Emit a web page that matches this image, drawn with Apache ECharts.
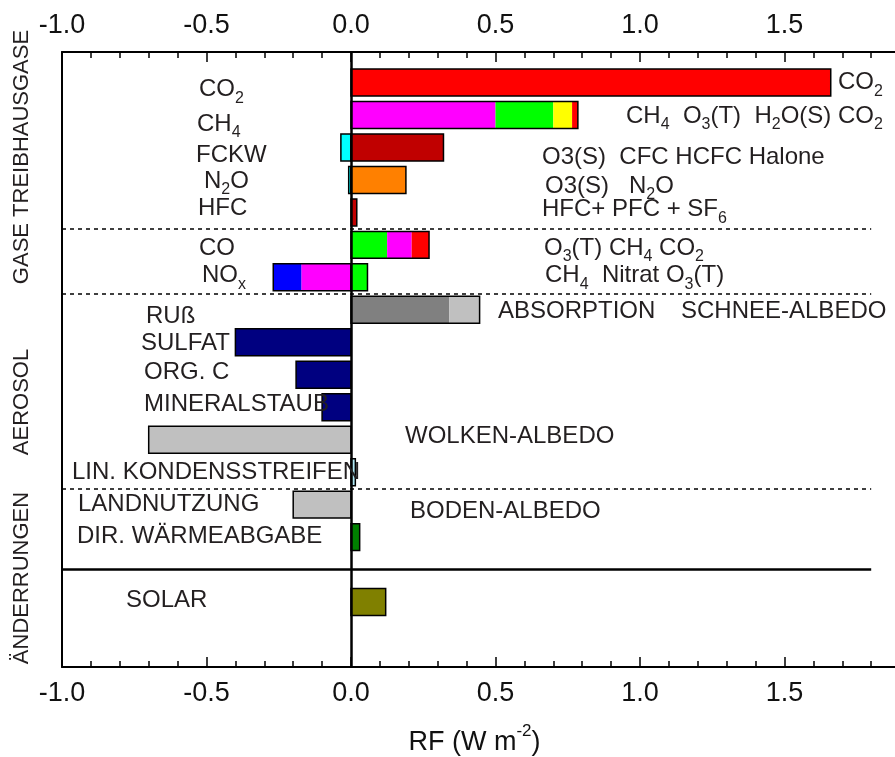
<!DOCTYPE html>
<html><head><meta charset="utf-8">
<script src="https://cdn.jsdelivr.net/npm/echarts@6/dist/echarts.min.js"></script>
<style>html,body{margin:0;padding:0;background:#fff}#c{width:895px;height:757px}</style>
</head><body><div id="c"></div>
<script>
// ---------------- DATA ----------------
const rowNames = ['CO2','CH4','FCKW','N2O','HFC','CO','NOx','RUß','SULFAT','ORG. C','MINERALSTAUB','WOLKEN','LIN. KONDENSSTREIFEN','LANDNUTZUNG','DIR. WÄRMEABGABE','-','SOLAR'];
const leftLabels = ['CO{s|2}','CH{s|4}','FCKW','N{s|2}O','HFC','CO','NO{s|x}','RUß','SULFAT','ORG. C','MINERALSTAUB','','LIN. KONDENSSTREIFEN','LANDNUTZUNG','DIR. WÄRMEABGABE','','SOLAR'];
const contribRow   = ['CO2','CH4','CH4','CH4','CH4','FCKW','FCKW','N2O','N2O','HFC','CO','CO','CO','NOx','NOx','NOx','RUß','RUß','SULFAT','ORG. C','MINERALSTAUB','WOLKEN','LIN. KONDENSSTREIFEN','LANDNUTZUNG','DIR. WÄRMEABGABE','SOLAR'];
const contribAgent = ['CO2','CH4','O3T','H2OS','CO2','O3S','HALO','O3S','N2O','HFC','O3T','CH4','CO2','CH4','NITRAT','O3T','BC','SNOW','SULF','ORGC','DUST','CLOUD','CONTRAIL','LAND','HEAT','SOLAR'];
const contribValue = [1.66, 0.50, 0.20, 0.065, 0.02, -0.035, 0.32, -0.008, 0.19, 0.02, 0.125, 0.085, 0.06, -0.172, -0.097, 0.057, 0.34, 0.105, -0.40, -0.19, -0.10, -0.70, 0.015, -0.20, 0.03, 0.12];
const annotationRow  = ['CO2','CH4','FCKW','N2O','HFC','CO','NOx','RUß','RUß','WOLKEN','LANDNUTZUNG'];
const annotationText = ['CO{s|2}','CH{s|4}  O{s|3}(T)  H{s|2}O(S) CO{s|2}','O3(S)  CFC HCFC Halone','O3(S)   N{s|2}O','HFC+ PFC + SF{s|6}','O{s|3}(T) CH{s|4} CO{s|2}','CH{s|4}  Nitrat O{s|3}(T)','ABSORPTION','SCHNEE-ALBEDO','WOLKEN-ALBEDO','BODEN-ALBEDO'];
const groupBreaks = [4.5, 6.5, 12.5];   // dashed separators (between rows)
const sectionBreaks = [15];             // solid separator
const groupTitles = ['GASE TREIBHAUSGASE','AEROSOL','ÄNDERRUNGEN'];
const xMin = -1.0, xMax = 2.0, xStep = 0.5, lineEnd = 1.8;
const axisTitle = 'RF (W m{p|-2})';

// ---------------- STYLE ----------------
const FONT = 'Liberation Sans, Arial, sans-serif';
const TXT = '#231f20';
const agentColor = {CO2:'#ff0000',CH4:'#ff00ff',O3T:'#00ff00',H2OS:'#ffff00',O3S:'#00ffff',HALO:'#c00000',N2O:'#ff8000',HFC:'#c00000',NITRAT:'#0000ff',BC:'#808080',SNOW:'#c0c0c0',SULF:'#000080',ORGC:'#000080',DUST:'#000080',CLOUD:'#c0c0c0',CONTRAIL:'#b0e8f4',LAND:'#c0c0c0',HEAT:'#008000',SOLAR:'#808000'};
const leftLabelX  = [199,197,196,204,198,199,202,146,141,144,144,0,72,78,77,0,126];
const leftLabelDy = [7,9,8,1,-4,3,-2,7,1,-2,-3,0,0,0,-1,0,-2];
const annotationX  = [838,626,542,545,542,544,545,498,681,405,410];
const annotationDy = [0,1,10,6,-3,3,-2,2,2,-3,7];
const titleY = [157,402,578];
const BAR_HALF = 0.415;
const LABEL_SIZE = 24;
const richSub = {s:{fontSize:16,lineHeight:16,padding:[18,0,0,0],fontFamily:FONT,fill:TXT}};

// ---------------- BUILD ----------------
const segs = [], outlines = [];
const pos = {}, neg = {};
contribRow.forEach((r,i)=>{
  const row = rowNames.indexOf(r), v = contribValue[i];
  if (v >= 0) { const s = pos[row]||0; segs.push([row,s,s+v,contribAgent[i]]); pos[row]=s+v; }
  else { const s = neg[row]||0; segs.push([row,s,s+v,contribAgent[i]]); neg[row]=s+v; }
});
Object.keys(pos).forEach(k=>outlines.push([+k,0,pos[k]]));
Object.keys(neg).forEach(k=>outlines.push([+k,0,neg[k]]));

function rectFor(api){
  const row = api.value(0), a = api.value(1), b = api.value(2);
  const p0 = api.coord([a,row-BAR_HALF]), p1 = api.coord([b,row+BAR_HALF]);
  return {x:Math.min(p0[0],p1[0]), y:Math.min(p0[1],p1[1]), width:Math.abs(p1[0]-p0[0]), height:Math.abs(p1[1]-p0[1])};
}

const xAxisBase = {
  type:'value', min:xMin, max:xMax, interval:xStep,
  axisLine:{onZero:false, lineStyle:{color:'#000',width:2}},
  axisTick:{inside:true,length:10,lineStyle:{color:'#000',width:1.5}},
  minorTick:{show:true,splitNumber:5,length:6,lineStyle:{color:'#000',width:1.5}},
  splitLine:{show:false}, minorSplitLine:{show:false},
  axisLabel:{fontSize:27,color:'#111',fontFamily:FONT,margin:13,formatter:v=>v.toFixed(1)}
};

const markData = [{xAxis:0, lineStyle:{type:'solid',width:2.5,color:'#000'}}];
groupBreaks.forEach(y=>markData.push([{coord:[xMin,y],lineStyle:{type:[4,4],width:1.5,color:'#000'}},{coord:[lineEnd,y]}]));
sectionBreaks.forEach(y=>markData.push([{coord:[xMin,y],lineStyle:{type:'solid',width:2.5,color:'#000'}},{coord:[lineEnd,y]}]));

const option = {
  animation:false,
  grid:{left:62,top:52,width:867,height:615,outerBoundsMode:'none',containLabel:false},
  xAxis:[
    Object.assign({}, xAxisBase, {position:'bottom', name:axisTitle, nameLocation:'middle', nameGap:62,
      nameTextStyle:{fontSize:27,color:'#111',fontFamily:FONT,padding:[0,42,0,0],
        rich:{p:{fontSize:17,lineHeight:17,padding:[0,0,22,0],fontFamily:FONT,color:'#111'}}}}),
    Object.assign({}, xAxisBase, {position:'top'})
  ],
  yAxis:{type:'value',inverse:true,min:-0.94,max:18,
    axisLine:{show:true,onZero:false,lineStyle:{color:'#000',width:2}},
    axisTick:{show:false},axisLabel:{show:false},splitLine:{show:false}},
  graphic: groupTitles.map((t,i)=>({type:'text',x:22,y:titleY[i],rotation:Math.PI/2,
    style:{text:t,fontSize:22,fontFamily:FONT,fill:TXT,align:'center',verticalAlign:'middle'}})),
  series:[
    {type:'custom',coordinateSystem:'cartesian2d',encode:{x:[1,2],y:0},data:segs.map(s=>[s[0],s[1],s[2]]),z:2,
     renderItem:(params,api)=>({type:'rect',shape:rectFor(api),style:{fill:agentColor[segs[params.dataIndex][3]],stroke:null}})},
    {type:'custom',coordinateSystem:'cartesian2d',encode:{x:[1,2],y:0},data:outlines,z:3,
     renderItem:(params,api)=>({type:'rect',shape:rectFor(api),style:{fill:null,stroke:'#000',lineWidth:1.5}}),
     markLine:{silent:true,symbol:'none',label:{show:false},animation:false,data:markData}},
    {type:'custom',coordinateSystem:'cartesian2d',encode:{y:0},data:rowNames.map((r,i)=>[i]),z:5,silent:true,
     renderItem:(params,api)=>{
       const i = params.dataIndex; if(!leftLabels[i]) return null;
       const y = api.coord([0,api.value(0)])[1] + leftLabelDy[i];
       return {type:'text',x:leftLabelX[i],y:y,style:{text:leftLabels[i],rich:richSub,fontSize:LABEL_SIZE,fontFamily:FONT,fill:TXT,align:'left',verticalAlign:'middle'}};
     }},
    {type:'custom',coordinateSystem:'cartesian2d',encode:{y:0},data:annotationRow.map(r=>[rowNames.indexOf(r)]),z:5,silent:true,
     renderItem:(params,api)=>{
       const i = params.dataIndex;
       const y = api.coord([0,api.value(0)])[1] + annotationDy[i];
       return {type:'text',x:annotationX[i],y:y,style:{text:annotationText[i],rich:richSub,fontSize:LABEL_SIZE,fontFamily:FONT,fill:TXT,align:'left',verticalAlign:'middle'}};
     }}
  ]
};
echarts.init(document.getElementById('c')).setOption(option);
</script></body></html>
